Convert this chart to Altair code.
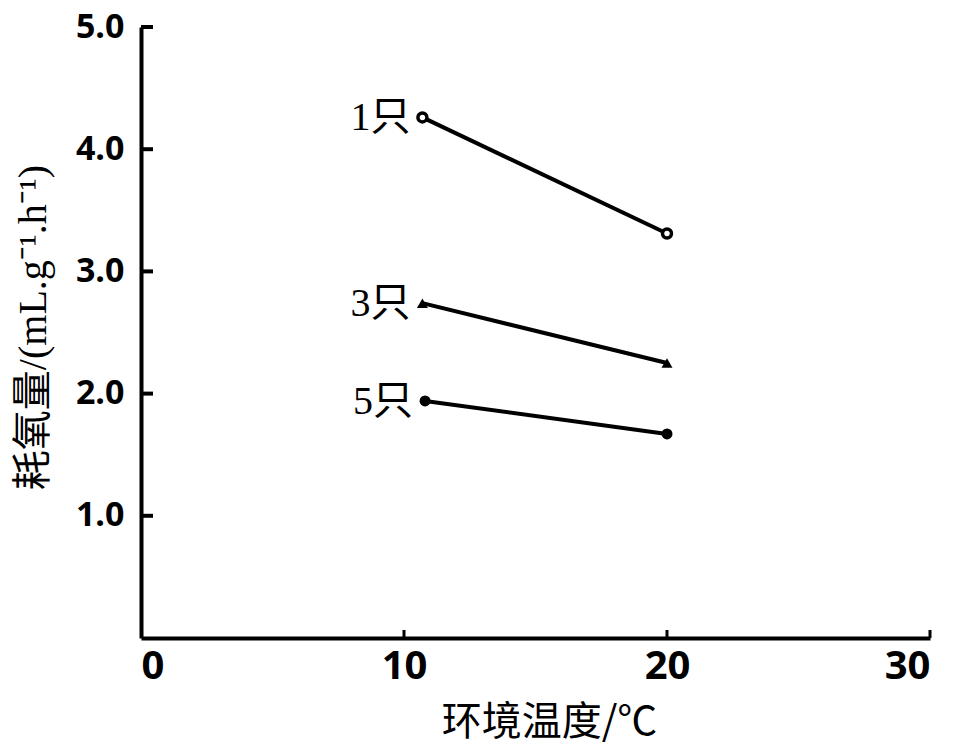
import altair as alt
import pandas as pd

# Data
groups = ["1只", "1只", "3只", "3只", "5只", "5只"]
temps = [10.7, 20.0, 10.7, 20.0, 10.8, 20.0]
oxygen = [4.26, 3.31, 2.74, 2.25, 1.94, 1.67]

label_groups = ["1只", "3只", "5只"]
label_temps = [10.7, 10.7, 10.8]
label_oxygen = [4.26, 2.74, 1.94]

x_ticks = [10, 20, 30]
x_labels = [0, 10, 20, 30]
y_ticks = [1, 2, 3, 4, 5]

df = pd.DataFrame({"group": groups, "temp": temps, "o2": oxygen})
lab = pd.DataFrame({"group": label_groups, "temp": label_temps, "o2": label_oxygen})
xt = pd.DataFrame({"v": x_ticks})
yt = pd.DataFrame({"v": y_ticks})

W, H = 789, 611

xscale = alt.Scale(domain=[0, 30], nice=False, zero=False)
yscale = alt.Scale(domain=[0, 5], nice=False, zero=False)

xaxis = alt.Axis(
    values=x_labels, format="d", ticks=False, grid=False,
    domainColor="black", domainWidth=4,
    labelFont="Open Sans", labelFontWeight="bold", labelFontSize=40,
    labelColor="black", labelPadding=8,
    title="环境温度/℃", titleFont="Noto Sans CJK SC", titleFontWeight="normal",
    titleFontSize=40, titleColor="black", titleX=408, titleY=84,
    titleBaseline="middle",
)
yaxis = alt.Axis(
    values=[1, 2, 3, 4, 5], format=".1f", ticks=False, grid=False,
    domainColor="black", domainWidth=4,
    labelFont="Open Sans", labelFontWeight="bold", labelFontSize=34,
    labelColor="black", labelPadding=17,
    title="耗氧量/(mL.g⁻¹.h⁻¹)", titleFont="Liberation Serif, Noto Sans CJK SC",
    titleFontWeight="normal", titleFontSize=40, titleColor="black",
    titleX=-108, titleY=300, titleAngle=270, titleBaseline="middle",
)

base = alt.Chart(df)

lines = base.mark_line(color="black", strokeWidth=4).encode(
    x=alt.X("temp:Q", scale=xscale, axis=xaxis),
    y=alt.Y("o2:Q", scale=yscale, axis=yaxis),
    detail="group:N",
)

open_pts = base.transform_filter(alt.datum.group == "1只").mark_point(
    shape="circle", filled=True, fill="white", stroke="black", strokeWidth=3.5, size=80, opacity=1
).encode(x="temp:Q", y="o2:Q")

tri_pts = base.transform_filter(alt.datum.group == "3只").mark_point(
    shape="triangle-up", filled=True, color="black", size=120, opacity=1
).encode(x="temp:Q", y="o2:Q")

dot_pts = base.transform_filter(alt.datum.group == "5只").mark_point(
    shape="circle", filled=True, color="black", size=120, opacity=1
).encode(x="temp:Q", y="o2:Q")

labels = alt.Chart(lab).mark_text(
    align="right", baseline="middle", dx=-12, dy=1,
    font="Liberation Serif, Noto Sans CJK SC", fontSize=40, color="black"
).encode(x="temp:Q", y="o2:Q", text="group:N")

yticks = alt.Chart(yt).mark_rule(color="black", strokeWidth=4).encode(
    y=alt.Y("v:Q", scale=yscale), x=alt.value(0), x2=alt.value(12)
)
xticks = alt.Chart(xt).mark_rule(color="black", strokeWidth=3).encode(
    x=alt.X("v:Q", scale=xscale), y=alt.value(H), y2=alt.value(H - 8)
)

chart = alt.layer(lines, yticks, xticks, open_pts, tri_pts, dot_pts, labels).properties(
    width=W, height=H,
    background="white",
    autosize=alt.AutoSizeParams(type="none"),
    padding={"left": 133, "top": 19, "right": 20, "bottom": 110},
).configure_view(strokeWidth=0, stroke="transparent").configure_axis(grid=False)

chart.save("out.html", embed_options={"renderer": "svg", "actions": False})
